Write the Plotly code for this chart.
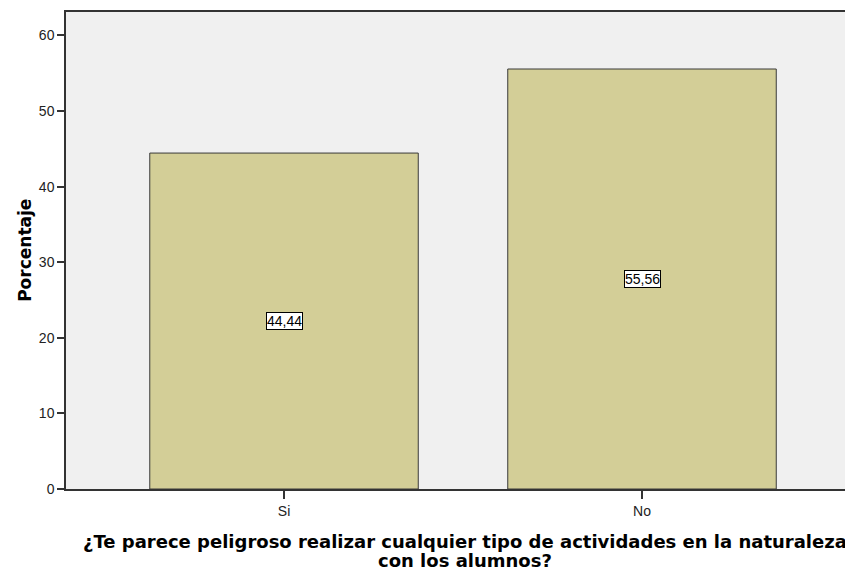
import plotly.graph_objects as go

categories = ["Si", "No"]
values = [44.44, 55.56]
labels = ["44,44", "55,56"]
y_ticks = [0, 10, 20, 30, 40, 50, 60]
x_title_lines = ["¿Te parece peligroso realizar cualquier tipo de actividades en la naturaleza",
                 "con los alumnos?"]
y_title = "Porcentaje"

# page body has an 8px margin: figure drawn at (8,8)
W, H = 845, 566
L, T = 58, 4
PB = 481.3          # plot bottom (figure px)
B = H - PB
PH = PB - T
PW = W - L

def py(pix):
    return (PB - pix) / PH

def px(pix):
    return (pix - L) / PW

fig = go.Figure()
fig.add_trace(go.Bar(
    x=[0, 1], y=values, width=0.75,
    marker=dict(color="#d3ce97", line=dict(color="#3a3a3a", width=1)),
    hoverinfo="skip",
))

for i, (v, t) in enumerate(zip(values, labels)):
    fig.add_annotation(x=i, y=v / 2, text=t, showarrow=False,
                       font=dict(family="Liberation Sans", size=14, color="#000"),
                       bgcolor="white", bordercolor="#000", borderwidth=1, borderpad=0)

for line, cy in zip(x_title_lines, [533.5, 553.0]):
    fig.add_annotation(xref="paper", yref="paper", x=px(457), y=py(cy),
                       xanchor="center", yanchor="middle", showarrow=False,
                       text="<b>" + line + "</b>",
                       font=dict(family="DejaVu Sans", size=18, color="#000"))

fig.add_annotation(xref="paper", yref="paper", x=px(17), y=py(243), textangle=-90,
                   xanchor="center", yanchor="middle", showarrow=False,
                   text="<b>" + y_title + "</b>",
                   font=dict(family="DejaVu Sans", size=17, color="#000"))

fig.update_layout(
    width=W, height=H,
    margin=dict(l=L, r=0, t=T, b=B, autoexpand=False),
    paper_bgcolor="white", plot_bgcolor="#f0f0f0",
    showlegend=False,
    font=dict(family="Liberation Sans", size=14, color="#222"),
    xaxis=dict(range=[-0.609, (853 - 284) / 358], tickmode="array", tickvals=[0, 1], ticktext=categories,
               showline=True, linecolor="#333", linewidth=1.5, mirror=True,
               ticks="outside", ticklen=8, tickcolor="#333", tickwidth=1.5, showgrid=False, zeroline=False,
               tickfont=dict(family="Liberation Sans", size=14, color="#222")),
    yaxis=dict(range=[0, 63.1], tickvals=y_ticks, showline=True, linecolor="#333", linewidth=1.5,
               ticks="outside", ticklen=7, tickcolor="#333", tickwidth=1.5, showgrid=False, zeroline=False,
               tickfont=dict(family="Liberation Sans", size=14, color="#222")),
)

fig.write_html("out.html")
